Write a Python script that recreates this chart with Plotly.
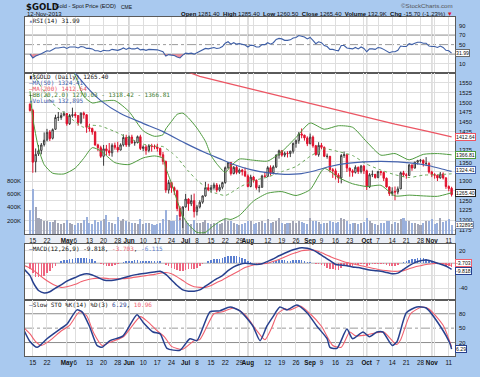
import plotly.graph_objects as go

# ---------------- data (trading-day index 0 = 12-Apr-2013 ... 149 = 12-Nov-2013) -------------
open_ = [1496,1480,1349,1369,1378,1393,1405,1425,1409,1432,
         1463,1462,1468,1472,1446,1467,1470,1467,1449,1473,
         1469,1436,1434,1425,1392,1385,1363,1382,1377,1372,
         1391,1386,1379,1392,1411,1392,1412,1397,1398,1413,
         1383,1387,1378,1390,1388,1387,1383,1367,1350,1277,
         1296,1283,1275,1230,1210,1234,1254,1242,1250,1222,
         1234,1246,1262,1283,1278,1283,1290,1277,1284,1296,
         1334,1347,1319,1335,1322,1328,1324,1313,1286,1310,
         1302,1283,1284,1313,1312,1334,1321,1336,1366,1377,
         1366,1371,1370,1376,1396,1403,1420,1417,1410,1395,
         1412,1390,1367,1391,1386,1363,1363,1329,1326,1315,
         1308,1365,1367,1333,1326,1322,1335,1324,1338,1326,
         1285,1316,1317,1309,1324,1322,1307,1285,1268,1273,
         1272,1280,1321,1316,1314,1341,1333,1348,1352,1353,
         1345,1345,1323,1316,1315,1308,1318,1308,1286,1281.4]
high = [1498,1484,1383,1392,1397,1424,1433,1430,1434,1469,
        1476,1474,1478,1473,1471,1487,1476,1467,1475,1477,
        1470,1446,1436,1428,1395,1390,1392,1392,1397,1396,
        1398,1400,1396,1419,1418,1416,1418,1404,1416,1418,
        1391,1392,1394,1395,1393,1395,1385,1374,1352,1303,
        1298,1286,1278,1236,1235,1267,1256,1265,1268,1239,
        1251,1263,1298,1293,1290,1296,1295,1291,1298,1337,
        1348,1348,1338,1340,1332,1331,1334,1317,1316,1313,
        1304,1290,1316,1322,1338,1340,1340,1368,1380,1379,
        1375,1376,1377,1398,1406,1425,1434,1418,1414,1421,
        1416,1392,1399,1397,1388,1370,1364,1333,1332,1320,
        1369,1375,1369,1334,1330,1340,1337,1341,1341,1329,
        1320,1327,1318,1326,1326,1324,1309,1286,1284,1286,
        1286,1324,1326,1320,1343,1342,1349,1354,1356,1355,
        1361,1348,1326,1320,1316,1323,1322,1310,1289,1285.4]
low = [1477,1321,1322,1364,1368,1388,1401,1402,1406,1430,
       1453,1456,1465,1441,1443,1462,1461,1441,1445,1459,
       1423,1426,1418,1390,1376,1359,1339,1366,1364,1362,
       1380,1373,1378,1388,1387,1387,1395,1390,1396,1379,
       1376,1367,1373,1375,1381,1375,1362,1342,1270,1268,
       1270,1264,1223,1200,1180,1232,1224,1236,1207,1212,
       1230,1242,1260,1274,1270,1278,1271,1273,1279,1293,
       1331,1314,1317,1317,1318,1314,1310,1284,1284,1296,
       1278,1271,1283,1308,1310,1314,1317,1333,1357,1362,
       1361,1360,1361,1370,1385,1395,1409,1403,1389,1394,
       1385,1365,1362,1381,1361,1357,1322,1308,1304,1295,
       1294,1359,1323,1311,1311,1319,1318,1319,1318,1277,
       1282,1310,1306,1307,1314,1300,1283,1262,1262,1251,
       1266,1279,1310,1306,1313,1326,1332,1342,1347,1337,
       1338,1319,1310,1306,1300,1306,1304,1280,1274,1260.5]
close = [1480,1348,1368,1377,1392,1404,1424,1408,1431,1462,
         1462,1467,1472,1446,1467,1469,1467,1449,1473,1469,
         1437,1434,1425,1392,1385,1363,1382,1377,1372,1391,
         1386,1379,1392,1411,1392,1412,1397,1398,1413,1383,
         1387,1378,1390,1388,1387,1383,1367,1350,1277,1296,
         1283,1275,1230,1210,1234,1254,1242,1250,1222,1234,
         1246,1262,1283,1278,1283,1290,1277,1284,1296,1334,
         1347,1319,1335,1322,1328,1324,1313,1286,1310,1302,
         1283,1284,1313,1312,1334,1321,1336,1366,1377,1366,
         1371,1370,1376,1396,1403,1420,1417,1410,1395,1412,
         1390,1367,1391,1386,1363,1363,1329,1326,1315,1308,
         1365,1367,1333,1326,1322,1335,1324,1338,1326,1285,
         1316,1317,1309,1324,1322,1307,1285,1268,1273,1272,
         1280,1321,1316,1314,1341,1333,1348,1352,1353,1345,
         1345,1323,1316,1315,1308,1318,1308,1286,1281,1265.4]
volume_k = [360,670,410,235,225,200,190,175,185,205,
            160,150,170,215,165,150,140,170,165,215,
            250,160,150,210,180,200,230,290,180,170,
            150,260,190,220,200,180,160,170,150,230,
            150,165,170,150,140,150,160,220,360,210,
            200,190,290,240,260,200,170,150,215,170,
            160,180,210,170,150,160,170,150,160,220,
            190,200,160,150,140,150,170,200,190,150,
            170,180,200,160,230,170,180,200,235,170,
            150,165,160,190,170,200,180,160,150,235,
            190,200,180,150,170,160,200,180,170,180,
            235,230,200,150,160,170,150,160,180,235,
            200,160,150,140,160,170,190,200,150,180,
            170,230,235,200,190,170,160,150,140,160,
            190,200,230,150,160,235,180,200,220,133]

# moving averages / Bollinger bands, read at sample days
ma50_x = [13, 15, 17, 20, 25, 32, 40, 47, 55, 62, 67, 72, 78, 85, 90, 95, 100, 106, 112, 118, 124, 130, 136, 141, 145, 149]
ma50_v = [1598, 1582, 1566, 1540, 1505, 1472, 1447, 1426, 1396, 1372, 1357, 1342, 1329, 1320, 1317, 1318, 1325, 1337, 1345, 1349, 1350, 1349, 1345, 1339, 1332, 1324.41]
ma200_x = [55, 60, 70, 82, 94, 106, 117, 129, 141, 149]
ma200_v = [1580, 1567, 1549, 1528, 1507, 1486, 1466, 1445, 1426, 1412.64]
bb_x = [0, 1, 3, 5, 8, 12, 16, 19, 22, 25, 30, 35, 40, 44, 47, 48, 50, 52, 54, 56, 59, 62, 64, 66, 69,
        71, 74, 79, 84, 89, 94, 99, 104, 109, 114, 119, 124, 129, 134, 139, 144, 149]
bb_mid = [1586, 1574, 1551, 1528, 1498, 1474, 1451, 1437, 1442, 1440, 1426, 1409, 1394, 1389, 1388, 1383, 1373,
          1360, 1342, 1325, 1302, 1285, 1273, 1268, 1263, 1270, 1284, 1301, 1310, 1324, 1337, 1363, 1382, 1375,
          1365, 1343, 1328, 1316, 1309, 1315, 1316, 1318.42]
bb_up = [1643, 1688, 1717, 1714, 1676, 1630, 1569, 1516, 1499, 1503, 1505, 1477, 1428, 1414, 1418, 1433, 1452,
         1470, 1473, 1461, 1435, 1401, 1365, 1344, 1322, 1338, 1356, 1353, 1351, 1375, 1411, 1448, 1432, 1441,
         1437, 1400, 1366, 1370, 1354, 1368, 1370, 1366.81]
bb_lo = [1529, 1460, 1384, 1342, 1320, 1318, 1333, 1358, 1385, 1377, 1347, 1342, 1359, 1364, 1358, 1333, 1294,
         1250, 1211, 1189, 1169, 1169, 1181, 1192, 1204, 1202, 1212, 1249, 1269, 1273, 1263, 1278, 1332, 1309,
         1293, 1286, 1289, 1262, 1264, 1262, 1261, 1270.03]

# RSI(14), daily
rsi = [30, 22, 26, 28, 31, 34, 37, 36, 39, 43,
       43, 44, 45, 42, 45, 45, 45, 43, 46, 45,
       42, 42, 41, 37, 37, 35, 38, 37, 37, 40,
       39, 38, 40, 43, 40, 43, 41, 41, 43, 39,
       40, 38, 40, 40, 40, 39, 37, 35, 26, 29,
       28, 27, 24, 22, 28, 32, 31, 32, 30, 33,
       35, 38, 42, 41, 42, 44, 42, 43, 46, 53,
       56, 51, 54, 51, 52, 51, 49, 45, 49, 48,
       45, 45, 50, 50, 54, 51, 54, 61, 63, 62,
       59, 59, 60, 64, 65, 69, 68, 66, 62, 65,
       59, 52, 56, 54, 48, 46, 40, 40, 38, 37,
       48, 48, 43, 42, 41, 44, 41, 45, 42, 35,
       41, 41, 40, 44, 43, 40, 36, 33, 35, 35,
       38, 47, 46, 46, 52, 50, 53, 55, 55, 53,
       53, 47, 46, 46, 44, 47, 44, 38, 37, 31.99]

# MACD(12,26,9)
macd_x = [-2, 0, 1, 2, 3, 5, 7, 9, 11, 13, 16, 18, 20, 22, 24, 26, 28, 30, 32, 35,
          38, 41, 44, 46, 48, 50, 52, 54, 56, 58, 60, 62, 64, 66, 68, 70, 72, 74, 76, 78,
          80, 82, 84, 86, 88, 90, 92, 94, 96, 98, 100, 102, 104, 106, 108, 110, 112, 114, 116, 118,
          120, 122, 124, 126, 128, 130, 132, 134, 136, 138, 140, 142, 144, 146, 148, 149]
macd_v = [-10, -20, -30, -38, -44, -48, -46, -40, -35, -29, -23, -19, -17, -19, -23, -27, -28, -27, -25, -21,
          -18, -16, -14, -13, -18, -27, -36, -43, -45, -45, -43, -37, -31, -25, -20, -12, -6, -2, 0, -1,
          -2, -1, 3, 7, 12, 16, 20, 23, 25, 24, 21, 16, 10, 4, -2, -3, -4, -6, -7, -9,
          -11, -12, -13, -15, -17, -16, -10, -4, 1, 4, 5, 3, 0, -3, -7, -9.818]
signal_v = [-4, -8, -11, -14, -18, -25, -31, -36, -39, -38, -34, -30, -27, -25, -24, -24, -25, -25, -25, -24,
            -22, -20, -18, -16, -15, -17, -22, -28, -34, -38, -39, -39, -36, -31, -27, -22, -17, -12, -7, -4,
            -2, -1, 0, 3, 6, 10, 14, 17, 20, 21, 21, 19, 15, 11, 7, 4, 1, -1, -3, -5,
            -7, -9, -11, -12, -13, -13, -12, -9, -6, -4, -2, -1, 0, -1, -2.5, -3.703]
hist = [-10, -16, -22, -23, -22, -20, -16, -12, -8, -4,
        1, 3, 5, 5, 6, 7, 8, 8, 9, 9,
        8, 7, 6, 3, 1, -1, -3, -4, -5, -4,
        -3, -1, 1, 2, 3, 4, 4, 5, 5, 4,
        4, 4, 4, 4, 4, 3, 3, 1, -3, -5,
        -7, -9, -11, -13, -13, -11, -10, -9, -9, -7,
        -5, -2, 1, 3, 5, 6, 6, 7, 8, 10,
        12, 12, 12, 11, 10, 8, 6, 3, 2, 1,
        -1, -1, 0, 1, 2, 2, 3, 4, 5, 5,
        5, 4, 4, 5, 5, 5, 5, 4, 2, 2,
        0, -2, -2, -3, -5, -7, -9, -10, -11, -11,
        -7, -5, -5, -5, -4, -3, -3, -2, -2, -4,
        -3, -2, -2, -1, -1, -2, -3, -4, -4, -4,
        -3, 0, 2, 3, 5, 6, 7, 8, 8, 8,
        7, 5, 3, 2, 0, -1, -2, -4, -5, -6.115]

# Slow stochastic %K(14) %D(3)
stok_x = [-2, 0, 2.5, 6, 10.6, 13, 16.6, 18.4, 21, 23.7, 25.4, 28.3, 32.9, 37.8, 40, 43.5, 46, 48.4, 53, 56.5,
          59, 63.6, 67, 70.7, 74.2, 78.8, 81.3, 83.7, 85.9, 88.3, 90.8, 94.3, 97.9, 101.4, 105, 106, 108.5,
          112, 114, 117.7, 120, 122.6, 124.7, 128, 129.7, 133, 136.7, 140, 145, 148.4, 149]
stok_v = [44, 22, 10, 28, 48, 58, 88, 84, 54, 14, 10, 24, 34, 78, 62, 42, 38, 8, 4, 28,
          24, 84, 86, 94, 86, 54, 24, 54, 74, 94, 88, 98, 82, 54, 28, 10, 8,
          48, 28, 42, 32, 42, 42, 14, 22, 82, 94, 92, 54, 18, 6.29]
stod_x = [-2, 0, 2, 4, 7, 11, 14, 17.5, 20, 22.5, 25.5, 28, 33, 39, 41.5, 45, 47.5, 50, 54, 58,
          60, 65, 68, 72, 76, 80, 83, 85.5, 87.5, 90, 92, 95.5, 99, 103, 107, 110, 113, 115, 119, 122,
          125, 129.5, 131, 134.5, 138.5, 141, 146, 149]
stod_v = [50, 38, 22, 14, 24, 44, 56, 84, 76, 40, 14, 20, 32, 74, 64, 44, 32, 12, 6, 24,
          26, 80, 84, 92, 78, 46, 26, 52, 80, 90, 88, 96, 80, 54, 14, 10, 42, 34, 36, 40,
          42, 16, 26, 80, 94, 90, 56, 10.96]

tick_pos = [1, 6, 13, 16, 21, 26, 31, 35, 40, 45, 50, 55, 59, 64, 69, 74, 77, 79, 84, 89, 94, 99,
            103, 108, 113, 118, 119, 123, 128, 133, 138, 142, 143, 148]
tick_text = ["15", "22", "<b>May</b>", "6", "13", "20", "28", "<b>Jun</b>", "10", "17", "24", "<b>Jul</b>",
             "8", "15", "22", "29", "<b>Aug</b>", "", "12", "19", "26", "<b>Sep</b>", "9", "16", "23", "",
             "<b>Oct</b>", "7", "14", "21", "28", "<b>Nov</b>", "", "11"]
month_pos = [13, 35, 55, 77, 99, 119, 142]
price_grid = [1175, 1200, 1225, 1250, 1275, 1300, 1325, 1350, 1375, 1400, 1425, 1450, 1475, 1500, 1525, 1550]
price_labels = [1175, 1200, 1225, 1250, 1300, 1350, 1375, 1425, 1450, 1475, 1500, 1525, 1550]
rsi_labels = [90, 70, 50, 10]
macd_labels = [20, -40]
sto_labels = [80, 50, 20]
vol_labels = [200, 400, 600, 800]

# ---------------- layout helpers ----------------
W, H = 480, 377
ML, MR, MT, MB = 25, 25, 17, 10
PW, PH = W - ML - MR, H - MT - MB


def fy(ypx):
    return (H - MB - ypx) / PH


def fx(xpx):
    return (xpx - ML) / PW


days = list(range(len(close)))
XR = [-1.77, 150.2]
BG = "#a9c9ef"
GRID = "#dedede"
BORDER = "#5a5a5a"
MONO = "DejaVu Sans Mono"
SANS = "Liberation Sans, Arial"
NARROW = "Liberation Sans Narrow, DejaVu Sans Condensed, Arial"

fig = go.Figure()

# ---- RSI panel ----
fig.add_trace(go.Scatter(x=days, y=[30] * len(days), mode="lines", line=dict(width=0),
                         xaxis="x", yaxis="y", hoverinfo="skip"))
fig.add_trace(go.Scatter(x=days, y=[min(v, 30) for v in rsi], mode="lines", line=dict(width=0),
                         fill="tonexty", fillcolor="rgba(238,110,125,0.75)", xaxis="x", yaxis="y"))
fig.add_trace(go.Scatter(x=days, y=rsi, mode="lines", line=dict(color="#3d5ea6", width=1.1),
                         xaxis="x", yaxis="y"))

# ---- main panel: volume (base axis y2), price (y3 overlay) ----
vol_colors = ["#9ab0dc" if (i > 0 and close[i] < close[i - 1]) or i == 0 else "#a3a6b6" for i in days]
fig.add_trace(go.Bar(x=days, y=volume_k, marker=dict(color=vol_colors, line=dict(width=0)),
                     width=0.72, xaxis="x2", yaxis="y2"))

red_ids = [i for i in days if i == 0 or close[i] < close[i - 1]]
blk_ids = [i for i in days if i not in red_ids]


def candles(ids, col, fill_up):
    return go.Candlestick(x=ids, open=[open_[i] for i in ids], high=[high[i] for i in ids],
                          low=[low[i] for i in ids], close=[close[i] for i in ids],
                          increasing=dict(line=dict(color=col, width=1), fillcolor=fill_up),
                          decreasing=dict(line=dict(color=col, width=1), fillcolor=col),
                          whiskerwidth=0, xaxis="x2", yaxis="y3")


fig.add_trace(go.Scatter(x=ma200_x, y=ma200_v, mode="lines", line=dict(color="#ec5563", width=1.2),
                         xaxis="x2", yaxis="y3"))
fig.add_trace(go.Scatter(x=bb_x, y=bb_up, mode="lines", line=dict(color="#4e9a3e", width=1, shape="spline", smoothing=0.6),
                         xaxis="x2", yaxis="y3"))
fig.add_trace(go.Scatter(x=bb_x, y=bb_lo, mode="lines", line=dict(color="#4e9a3e", width=1, shape="spline", smoothing=0.6),
                         xaxis="x2", yaxis="y3"))
fig.add_trace(go.Scatter(x=bb_x, y=bb_mid, mode="lines", line=dict(color="#6aa85a", width=1, dash="dot", shape="spline", smoothing=0.6),
                         xaxis="x2", yaxis="y3"))
fig.add_trace(go.Scatter(x=ma50_x, y=ma50_v, mode="lines", line=dict(color="#4462ad", width=1.2, shape="spline", smoothing=0.6),
                         xaxis="x2", yaxis="y3"))
fig.add_trace(candles(blk_ids, "#3a3a3a", "#ffffff"))
fig.add_trace(candles(red_ids, "#e0102c", "#ffffff"))

# ---- MACD panel ----
fig.add_trace(go.Bar(x=days, y=hist, width=0.55,
                     marker=dict(color=["#5b7fd0" if v >= 0 else "#ee6680" for v in hist], line=dict(width=0)),
                     xaxis="x3", yaxis="y4"))
fig.add_trace(go.Scatter(x=macd_x, y=signal_v, mode="lines",
                         line=dict(color="#f0606e", width=1.1, shape="spline", smoothing=0.6), xaxis="x3", yaxis="y4"))
fig.add_trace(go.Scatter(x=macd_x, y=macd_v, mode="lines",
                         line=dict(color="#27408e", width=1.5, shape="spline", smoothing=0.6), xaxis="x3", yaxis="y4"))

# ---- Stochastic panel ----
fig.add_trace(go.Scatter(x=stod_x, y=stod_v, mode="lines",
                         line=dict(color="#f0606e", width=1.1, shape="spline", smoothing=0.6), xaxis="x4", yaxis="y5"))
fig.add_trace(go.Scatter(x=stok_x, y=stok_v, mode="lines",
                         line=dict(color="#27408e", width=1.5, shape="spline", smoothing=0.6), xaxis="x4", yaxis="y5"))

# ---------------- axes ----------------
d_rsi = [fy(75), 1.0]
d_main = [fy(241), fy(75)]
d_macd = [fy(309), fy(251)]
d_sto = [0.0, fy(309)]

xcommon = dict(range=XR, tickmode="array", tickvals=tick_pos, ticktext=tick_text, showgrid=True,
               gridcolor=GRID, gridwidth=1, zeroline=False, showline=True, mirror=True, tickangle=0,
               linecolor=BORDER, linewidth=1, ticks="", tickfont=dict(size=6.3, family=SANS, color="#111"))
ycommon = dict(showline=True, mirror=True, linecolor=BORDER, linewidth=1, ticks="", zeroline=False,
               gridcolor=GRID, showticklabels=False)

fig.update_layout(
    width=W, height=H, margin=dict(l=ML, r=MR, t=MT, b=MB),
    paper_bgcolor=BG, plot_bgcolor="#ffffff", showlegend=False, bargap=0, hovermode=False,
    xaxis=dict(xcommon, anchor="y", showticklabels=False),
    xaxis2=dict(xcommon, anchor="y2", showticklabels=True, rangeslider=dict(visible=False), matches="x"),
    xaxis3=dict(xcommon, anchor="y4", showticklabels=False, matches="x"),
    xaxis4=dict(xcommon, anchor="y5", showticklabels=True, matches="x"),
    yaxis=dict(ycommon, domain=d_rsi, range=[-10, 108], side="right", tickvals=[10, 90], showgrid=True),
    yaxis2=dict(ycommon, domain=d_main, range=[0, 2420], side="left", showgrid=False, anchor="x2"),
    yaxis3=dict(ycommon, domain=d_main, range=[1165, 1575], side="right", overlaying="y2", anchor="x2",
                tickvals=price_grid, showgrid=True),
    yaxis4=dict(ycommon, domain=d_macd, range=[-59, 31.5], side="right", tickvals=[20, -20, -40],
                showgrid=True, anchor="x3"),
    yaxis5=dict(ycommon, domain=d_sto, range=[-8, 109], side="right", tickvals=[], showgrid=False,
                anchor="x4"),
)

shapes = []
# date strip between main panel and MACD
shapes.append(dict(type="rect", xref="paper", yref="paper", x0=0, x1=1, y0=fy(251), y1=fy(241),
                   fillcolor="#e9edf5", line=dict(width=0), layer="below"))
# month separators
for ax_x, ax_y in [("x", "y"), ("x2", "y2"), ("x3", "y4"), ("x4", "y5")]:
    for m in month_pos:
        shapes.append(dict(type="line", xref=ax_x, yref=ax_y + " domain", x0=m, x1=m, y0=0, y1=1,
                           line=dict(color="#a6a6a6", width=1), layer="below"))
# reference lines
for ref_y, lvl, dash, col in [("y", 70, "solid", "#8c8c8c"), ("y", 30, "solid", "#8c8c8c"),
                              ("y", 50, "dashdot", "#9a9a9a"),
                              ("y5", 80, "solid", "#8c8c8c"), ("y5", 20, "solid", "#8c8c8c"),
                              ("y5", 50, "dashdot", "#9a9a9a"),
                              ("y4", 0, "solid", "#b0b0b0")]:
    shapes.append(dict(type="line", xref="paper", yref=ref_y, x0=0, x1=1, y0=lvl, y1=lvl,
                       line=dict(color=col, width=1, dash=dash), layer="below"))
fig.update_layout(shapes=shapes)

ann = []


def txt(xpx, ypx, text, size=6.5, family=SANS, color="#111", anchor="left"):
    ann.append(dict(x=fx(xpx), y=fy(ypx), xref="paper", yref="paper", text=text, showarrow=False,
                    xanchor=anchor, yanchor="middle", font=dict(size=size, family=family, color=color)))


def rlab(yref, val, text, shift=0):
    ann.append(dict(x=fx(457), y=val, xref="paper", yref=yref, text=text, showarrow=False,
                    xanchor="left", yanchor="middle", yshift=shift,
                    font=dict(size=5.8, family=SANS, color="#111")))


def llab(yref, val, text):
    ann.append(dict(x=fx(23), y=val, xref="paper", yref=yref, text=text, showarrow=False,
                    xanchor="right", yanchor="middle", font=dict(size=6, family=SANS, color="#111")))


def vbox(yref, val, text, col, fg="#111", shift=0):
    ann.append(dict(x=fx(455.5), y=val, xref="paper", yref=yref, text=text, showarrow=False,
                    xanchor="left", yanchor="middle", yshift=shift,
                    font=dict(size=5.2, family=SANS, color=fg),
                    bgcolor="#ffffff", bordercolor=col, borderwidth=1, borderpad=0))


# header
txt(24, 6, "<b>$GOLD</b>", size=9.5, family=NARROW)
txt(53, 6, "Gold - Spot Price (EOD)", size=5.7)
txt(119, 6.5, "CME", size=5)
txt(25, 13.5, "12-Nov-2013", size=6)
txt(455, 5.5, "©StockCharts.com", size=6.2, color="#555", anchor="right")
txt(455, 14, "<b>Open</b> 1281.40  <b>High</b> 1285.40  <b>Low</b> 1260.50  <b>Close</b> 1265.40  "
             "<b>Volume</b> 132.9K  <b>Chg</b> -15.70 (-1.23%) <span style='color:#e0102c'>▼</span>",
    size=6, anchor="right")

# panel legends
txt(27, 20.5, "<span style='color:#3d5ea6'>▴</span>RSI(14) 31.99", size=6, family=MONO)
txt(27, 79, "▮$GOLD (Daily) 1265.40", size=6, family=MONO)
txt(27, 85, "<span style='color:#4462ad'>—MA(50) 1324.41</span>", size=6, family=MONO)
txt(27, 91, "<span style='color:#ec5563'>—MA(200) 1412.64</span>", size=6, family=MONO)
txt(27, 97, "—<span style='color:#3d7a2e'>BB(20,2.0) 1270.03 - 1318.42 - 1366.81</span>", size=6, family=MONO)
txt(27, 103, "<span style='color:#4462ad'>▴Volume 132,895</span>", size=6, family=MONO)
txt(27, 255.5, "<span style='color:#27408e'>—</span>MACD(12,26,9) -9.818, "
               "<span style='color:#f0606e'>-3.703</span>, <span style='color:#5b7fd0'>-6.115</span>",
    size=6, family=MONO)
txt(27, 313.5, "<span style='color:#27408e'>—</span>Slow STO %K(14) %D(3) "
               "<span style='color:#27408e'>6.29</span>, <span style='color:#f0606e'>10.96</span>",
    size=6, family=MONO)

# axis labels (drawn as text at the axis values)
label_nudge = {1375: 2, 1350: -2}
for v in rsi_labels:
    rlab("y", v, str(v))
for v in price_labels:
    rlab("y3", v, str(v), label_nudge.get(v, 0))
for v in macd_labels:
    rlab("y4", v, str(v))
for v in sto_labels:
    rlab("y5", v, str(v))
for v in vol_labels:
    llab("y2", v, f"{v}K")

# right-edge value boxes
vbox("y", 31.99, "31.99", "#6a6a6a")
vbox("y3", 1412.64, "1412.64", "#ec5563")
vbox("y3", 1366.81, "1366.81", "#4e9a3e")
vbox("y3", 1324.41, "1324.41", "#4462ad", shift=1)
vbox("y3", 1265.40, "1265.40", "#222222", shift=2)
vbox("y2", 132.895, "132895", "#8090b0")
vbox("y4", -3.703, "-3.703", "#f0606e", shift=2)
vbox("y4", -9.818, "-9.818", "#27408e", shift=-2)
vbox("y5", 6.29, "6.29", "#27408e")

fig.update_layout(annotations=ann)
fig.write_html(
    "out.html",
    config={"staticPlot": True, "displayModeBar": False},
    post_script="document.body.style.margin='0';document.body.style.padding='0';"
                "document.body.style.overflow='hidden';",
)
